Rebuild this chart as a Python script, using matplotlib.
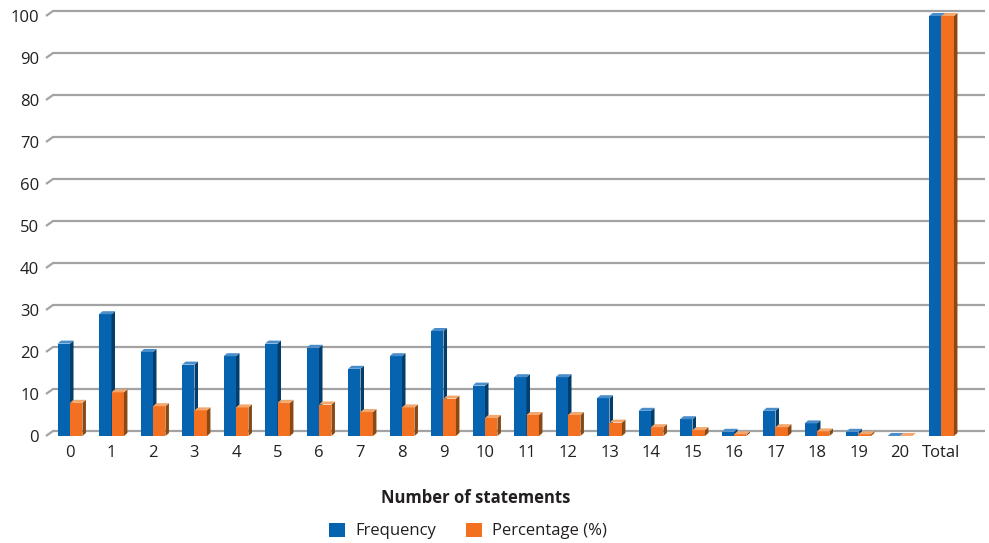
import matplotlib
matplotlib.use("Agg")
import matplotlib.pyplot as plt
from matplotlib.patches import Polygon, Patch

categories = ["0", "1", "2", "3", "4", "5", "6", "7", "8", "9", "10",
              "11", "12", "13", "14", "15", "16", "17", "18", "19", "20", "Total"]
frequency = [22, 29, 20, 17, 19, 22, 21, 16, 19, 25, 12, 14, 14, 9, 6, 4, 1, 6, 3, 1, 0, 100]
percentage = [7.9, 10.4, 7.1, 6.1, 6.8, 7.9, 7.5, 5.7, 6.8, 8.9, 4.3, 5.0, 5.0,
              3.2, 2.1, 1.4, 0.4, 2.1, 1.1, 0.4, 0.0, 100]
yticks = [0, 10, 20, 30, 40, 50, 60, 70, 80, 90, 100]
series_names = ["Frequency", "Percentage (%)"]

W, H = 989, 543
DPI = 100
plt.rcParams['font.family'] = ['Open Sans', 'DejaVu Sans']
TXT = '#231F20'

fig = plt.figure(figsize=(W / DPI, H / DPI), dpi=DPI)
# axes in pixel space: left 46, right 985, bottom 436, top 10
L, R, B, T = 46, 985, 436, 10
ax = fig.add_axes([L / W, 1 - B / H, (R - L) / W, (B - T) / H])

px_per_cat = 41.5
px_per_val = 4.2
x0 = (L - 70) / px_per_cat
ax.set_xlim(x0, x0 + (R - L) / px_per_cat)
ax.set_ylim(0, (B - T) / px_per_val)

# 3D depth offsets (data units)
dx = 3.5 / px_per_cat
dy = 3 / px_per_val
# wall depth
wdx = 7 / px_per_cat
wdy = 5 / px_per_val

grid_c = '#A3A3A3'
xl, xr = ax.get_xlim()
for v in yticks:
    ax.plot([xl, xl + wdx, xr], [v, v + wdy, v + wdy], color=grid_c, lw=1.6,
            solid_capstyle='butt', clip_on=False, zorder=1)

colors = [
    ('#0563B0', '#023D6B', '#4A8DCB'),
    ('#F37021', '#8A4912', '#F2A76D'),
]
bw = 0.3
xs = list(range(len(categories)))
for si, vals in enumerate([frequency, percentage]):
    front, side, top = colors[si]
    for i, v in zip(xs, vals):
        xa = i - bw if si == 0 else i
        xb = xa + bw
        z = 3 + si
        # front
        ax.add_patch(Polygon([(xa, 0), (xb, 0), (xb, v), (xa, v)], closed=True,
                             facecolor=front, edgecolor='none', zorder=z, clip_on=False))
        # side
        ax.add_patch(Polygon([(xb, 0), (xb + dx, dy), (xb + dx, v + dy), (xb, v)], closed=True,
                             facecolor=side, edgecolor='none', zorder=z, clip_on=False))
        # top
        ax.add_patch(Polygon([(xa, v), (xb, v), (xb + dx, v + dy), (xa + dx, v + dy)], closed=True,
                             facecolor=top, edgecolor='none', zorder=z, clip_on=False))

for s in ax.spines.values():
    s.set_visible(False)
ax.set_yticks(yticks)
ax.set_yticklabels([str(v) for v in yticks])
ax.set_xticks(xs)
ax.set_xticklabels(categories)
ax.tick_params(axis='y', length=0, pad=5, labelsize=12, labelcolor=TXT)
ax.tick_params(axis='x', length=0, pad=6.5, labelsize=12, labelcolor=TXT)

fig.text(476 / W, 1 - 498 / H, "Number of statements", ha='center', va='center',
         fontsize=12, fontweight='bold', color=TXT)

handles = [Patch(facecolor=colors[0][0], edgecolor='none'),
           Patch(facecolor=colors[1][0], edgecolor='none')]
fig.legend(handles, series_names, loc='center', bbox_to_anchor=(468 / W, 1 - 531 / H),
           ncol=2, frameon=False, fontsize=12, handlelength=0.95, handleheight=0.95,
           handletextpad=0.6, columnspacing=1.8, labelcolor=TXT)

fig.savefig("out.png", dpi=DPI)
